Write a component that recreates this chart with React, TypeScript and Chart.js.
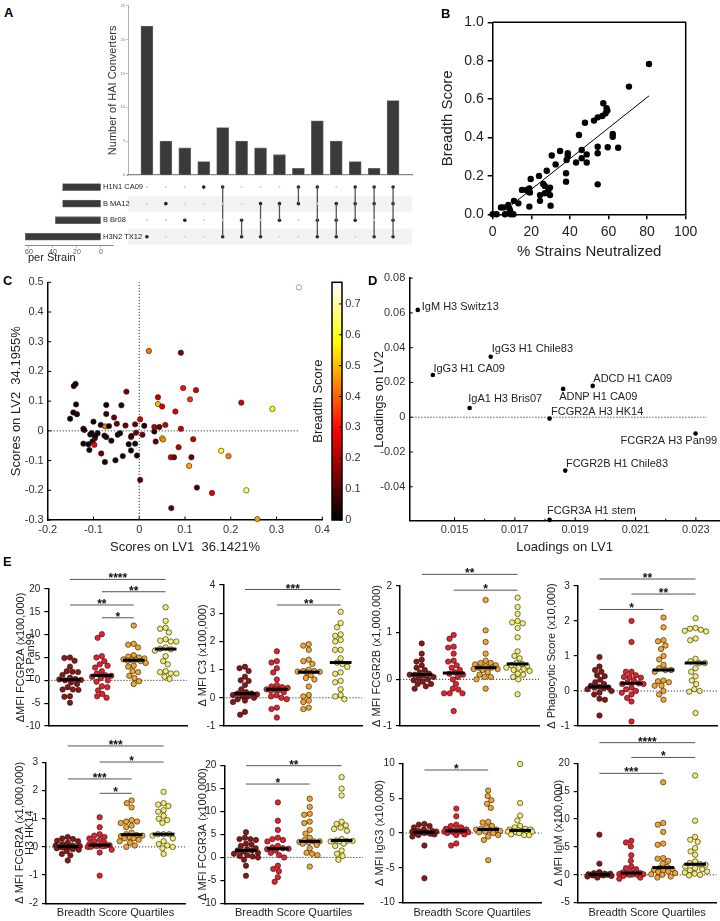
import React, { useEffect, useRef } from "react";
import { Chart, registerables } from "chart.js";

Chart.register(...registerables);
const FONT = "Arial, 'Liberation Sans', Helvetica, sans-serif";
Chart.defaults.font.family = FONT;
Chart.defaults.font.size = 11;
Chart.defaults.color = "#222";

// ---------------- Panel A (UpSet) ----------------
const upsetCounts = [22, 5, 4, 2, 7, 5, 4, 3, 1, 8, 5, 2, 1, 11];
const upsetMembers = [[4], [2], [3], [1], [1, 4], [3, 4], [2, 4], [2, 3], [1, 2], [1, 3, 4], [2, 3, 4], [1, 2, 3], [1, 2, 4], [1, 2, 3, 4]];
const strainNames = ["H1N1 CA09", "B MA12", "B Br08", "H3N2 TX12"];
const strainSizes = [32, 32, 38, 63];
const upsetCountTicks = [0, 5, 10, 15, 20, 25];
const strainSizeTicks = [0, 20, 40, 60];

// ---------------- Panel B ----------------
const neutPoints: [number, number][] = [
  [0, 0], [2, 0], [4.3, 0.036], [5.5, 0.036], [6.4, 0], [8.1, 0.049], [8.6, 0.031], [9, 0.019], [9.3, 0], [10.7, 0],
  [11, 0.07], [13.3, 0.057], [15.2, 0.127], [17.6, 0.127], [18.5, 0.118], [19, 0.135], [19.3, 0.113], [19.7, 0.184], [19, 0.04],
  [24, 0.2], [24.5, 0.07], [24.5, 0.1], [26.2, 0.158], [27, 0.148], [27, 0.11], [28, 0.227], [28.8, 0.123], [29.7, 0.139],
  [29.7, 0.1], [30, 0.045], [30.6, 0.306], [32.6, 0.26], [34.9, 0.33], [38, 0.214], [38, 0.17], [38.3, 0.283], [38.9, 0.318],
  [38.9, 0.304], [43.2, 0.27], [44.7, 0.413], [46.1, 0.335], [46.1, 0.292], [47.8, 0.477], [48.7, 0.312], [48.7, 0.27],
  [52.5, 0.488], [54.4, 0.505], [54.4, 0.352], [54.4, 0.318], [54.4, 0.156], [56.8, 0.512], [57.3, 0.578], [58.5, 0.526],
  [59, 0.552], [59.4, 0.54], [59.6, 0.349], [62.2, 0.418], [62.2, 0.404], [65, 0.347], [70.6, 0.665], [81, 0.783],
];
const regressionX = [10, 81];
const regressionY = [0.05, 0.617];

// ---------------- Panel C (scores: LV1, LV2, breadth) ----------------
const scorePoints: [number, number, number][] = [
  [-0.151, 0.041, 0.01], [-0.144, 0.062, 0.02], [-0.143, 0.151, 0.03], [-0.139, 0.158, 0.05], [-0.138, 0.089, 0.01],
  [-0.136, 0.056, 0.03], [-0.122, 0.007, 0.02], [-0.12, 0.003, 0.04], [-0.122, -0.043, 0.01], [-0.111, -0.045, 0.02],
  [-0.109, -0.064, 0.03], [-0.107, -0.012, 0.01], [-0.104, -0.008, 0.02], [-0.102, -0.036, 0.03], [-0.1, 0.031, 0.01],
  [-0.098, -0.047, 0.28], [-0.097, -0.025, 0.12], [-0.096, -0.017, 0.02], [-0.091, -0.008, 0.02], [-0.084, 0.02, 0.01],
  [-0.083, -0.076, 0.12], [-0.076, -0.016, 0.02], [-0.075, -0.105, 0.02], [-0.074, 0.015, 0.42], [-0.072, 0.087, 0.02],
  [-0.072, 0.057, 0.06], [-0.072, -0.021, 0.03], [-0.066, 0.016, 0.02], [-0.061, -0.033, 0.01], [-0.055, 0.045, 0.12],
  [-0.052, -0.099, 0.02], [-0.049, 0.024, 0.12], [-0.047, -0.013, 0.02], [-0.042, -0.008, 0.03], [-0.039, 0.086, 0.05],
  [-0.036, -0.085, 0.04], [-0.03, 0.018, 0.13], [-0.028, 0.132, 0.14], [-0.018, -0.021, 0.24], [-0.017, -0.017, 0.06],
  [-0.018, -0.066, 0.02], [-0.023, -0.045, 0.02], [-0.009, -0.043, 0.02], [-0.009, 0.022, 0.12], [-0.007, -0.006, 0.13],
  [-0.005, -0.083, 0.03], [0.002, 0.039, 0.25], [0.002, -0.165, 0.1], [0.007, -0.013, 0.13], [0.011, 0.017, 0.03],
  [0.021, 0.269, 0.42], [0.033, -0.002, 0.03], [0.033, 0.013, 0.2], [0.036, -0.036, 0.1], [0.041, 0.09, 0.5],
  [0.041, 0.113, 0.22], [0.044, 0.013, 0.12], [0.05, 0.082, 0.26], [0.05, -0.025, 0.58], [0.052, -0.029, 0.45],
  [0.057, 0.02, 0.22], [0.069, -0.089, 0.25], [0.07, -0.26, 0.1], [0.076, -0.089, 0.13], [0.079, 0.065, 0.25],
  [0.086, -0.055, 0.22], [0.091, 0.263, 0.15], [0.091, 0.007, 0.23], [0.096, 0.144, 0.3], [0.109, -0.118, 0.48],
  [0.111, 0.106, 0.34], [0.114, -0.089, 0.12], [0.118, -0.028, 0.22], [0.124, 0.137, 0.24], [0.126, -0.191, 0.07],
  [0.159, -0.209, 0.25], [0.179, -0.067, 0.6], [0.195, -0.085, 0.43], [0.223, 0.095, 0.24], [0.234, -0.2, 0.66],
  [0.258, -0.297, 0.47], [0.291, 0.074, 0.58], [0.349, 0.483, 0.77],
];
const breadthMax = 0.77;

// ---------------- Panel D (loadings) ----------------
const loadingNames = ["IgM H3 Switz13", "IgG3 H1 Chile83", "IgG3 H1 CA09", "IgA1 H3 Bris07", "ADNP H1 CA09", "ADCD H1 CA09", "FCGR2A H3 HK14", "FCGR2A H3 Pan99", "FCGR2B H1 Chile83", "FCGR3A H1 stem"];
const loadingLV1 = [0.01378, 0.0162, 0.01428, 0.0155, 0.0186, 0.01958, 0.01815, 0.02299, 0.01867, 0.01815];
const loadingLV2 = [0.0617, 0.0348, 0.0243, 0.0053, 0.0163, 0.018, -0.0008, -0.0094, -0.0307, -0.059];
const loadingTicksX = [0.015, 0.017, 0.019, 0.021, 0.023];
const loadingTicksY = [0.08, 0.06, 0.04, 0.02, 0, -0.02, -0.04];

// ---------------- Panel E (quartile groups Q1..Q4) ----------------
const fcgr2aPan99 = [
  [5, 4.9, 4.3, 3, 2, 1.9, 1.8, 1.2, 0.6, 0.3, 0.2, 0.1, 0, -0.5, -0.8, -1.5, -2, -2, -2.1, -3.5, -3.6, -4.9],
  [10.1, 9.3, 5.3, 5, 4.2, 3.5, 3.2, 2.8, 2, 1.5, 1.1, 1, 0.8, 0.5, 0, -0.3, -1.3, -1.5, -2.2, -3, -3.5, -3.8],
  [12, 8, 7.8, 7.2, 5.5, 5.2, 5, 4.8, 4.6, 4.5, 4.5, 4.3, 4.2, 3.8, 3.2, 3, 2, 1.8, 1, 0.5, -0.2, -0.8],
  [16, 13, 11.5, 11.3, 10.5, 9, 8.7, 8.5, 8.5, 7.2, 6.9, 6.8, 6.5, 5.3, 4.2, 3.5, 2, 1.8, 1.5, 1.5, 0.8, 0.3],
];
const c3 = [
  [1.1, 1.05, 0.95, 0.75, 0.62, 0.6, 0.45, 0.3, 0.2, 0.15, 0.15, 0.12, 0.1, 0.05, 0.05, 0, -0.05, -0.1, -0.15, -0.5, -0.6],
  [1.65, 1.3, 1.25, 1.05, 0.9, 0.65, 0.45, 0.4, 0.38, 0.35, 0.3, 0.3, 0.28, 0.25, 0.2, 0.1, 0.05, 0, -0.05, -0.35, -0.4, -0.7],
  [1.9, 1.85, 1.7, 1.35, 1.3, 1.2, 1.0, 0.95, 0.95, 0.93, 0.92, 0.9, 0.8, 0.7, 0.65, 0.4, 0.1, 0.05, -0.1, -0.15, -0.35, -0.4],
  [3.05, 2.65, 2.5, 2.25, 2.2, 2.05, 2.0, 1.7, 1.7, 1.4, 1.25, 1.2, 1.1, 0.9, 0.85, 0.6, 0.55, 0.3, 0.1, 0.05, -0.05],
];
const fcgr2b = [
  [0.77, 0.55, 0.42, 0.38, 0.3, 0.25, 0.2, 0.15, 0.12, 0.1, 0.1, 0.08, 0.05, 0.02, 0, -0.02, -0.05, -0.1, -0.1, -0.15, -0.2],
  [0.95, 0.87, 0.7, 0.68, 0.55, 0.4, 0.38, 0.3, 0.25, 0.2, 0.15, 0.12, 0.1, 0.05, 0, -0.1, -0.2, -0.22, -0.3, -0.3, -0.3, -0.68],
  [1.7, 1.05, 0.8, 0.55, 0.4, 0.35, 0.35, 0.32, 0.3, 0.28, 0.25, 0.25, 0.22, 0.2, 0.15, 0.1, 0.05, 0.05, 0, -0.2, 0.22],
  [1.75, 1.55, 1.4, 1.25, 1.22, 1.2, 1.1, 0.9, 0.6, 0.5, 0.45, 0.35, 0.33, 0.3, 0.28, 0.25, 0.25, 0.22, 0.2, 0.18, 0.12, 0.1, 0.05, 0, -0.32],
];
const phagocytic = [
  [0.97, 0.7, 0.6, 0.55, 0.45, 0.42, 0.32, 0.25, 0.2, 0.15, 0.12, 0.1, 0.1, 0.08, 0.05, 0, -0.05, -0.1, -0.22, -0.25, -0.7],
  [2.0, 1.4, 0.55, 0.55, 0.45, 0.4, 0.4, 0.38, 0.3, 0.25, 0.22, 0.2, 0.2, 0.1, 0.05, 0, -0.05, -0.1, -0.2, -0.3, -0.87],
  [2.1, 1.82, 1.45, 1.42, 1.3, 1.2, 1.0, 0.9, 0.75, 0.65, 0.6, 0.6, 0.55, 0.3, 0.28, 0.25, 0.15, 0.15, 0, -0.1, -0.25],
  [2.08, 1.8, 1.78, 1.75, 1.72, 1.7, 1.5, 1.45, 0.92, 0.85, 0.8, 0.8, 0.65, 0.55, 0.42, 0.3, 0.2, 0.05, 0, -0.02, -0.63],
];
const fcgr2aHK14 = [
  [0.35, 0.3, 0.28, 0.22, 0.2, 0.15, 0.1, 0.05, 0.05, 0.03, 0.02, 0, 0, 0, -0.02, -0.05, -0.08, -0.1, -0.15, -0.25, -0.3, -0.48],
  [1.05, 0.7, 0.45, 0.4, 0.35, 0.3, 0.25, 0.2, 0.15, 0.1, 0.06, 0.05, 0.05, 0.04, 0.03, 0.02, 0, 0, -0.1, -0.2, -1.02],
  [1.65, 1.55, 1.4, 0.95, 0.9, 0.9, 0.85, 0.75, 0.7, 0.5, 0.45, 0.42, 0.4, 0.38, 0.35, 0.3, 0.3, 0.25, 0.2, 0.15, 0.05, 0],
  [1.95, 1.55, 1.5, 1.45, 1.3, 1.25, 1.1, 1.0, 0.95, 0.85, 0.45, 0.45, 0.45, 0.4, 0.3, 0.2, 0.1, 0.05, 0, -0.05, -0.25],
];
const fcgr3a = [
  [5.5, 4.3, 4.0, 4.0, 3.8, 3.0, 2.8, 2.5, 2.0, 1.8, 1.5, 1.5, 1.3, 1.0, 0.8, 0.5, 0.3, 0.2, 0, -0.5, -1.8, -4.0],
  [12, 8, 6, 4.3, 4, 3.8, 3.5, 2.5, 2.2, 2, 1.9, 1.8, 1.5, 1.0, 0.5, 0, -1.8, -2.5, -3, -4.3, -5.3],
  [12.8, 11, 9.5, 9.3, 7.8, 7.5, 6, 5.2, 4.3, 3.8, 3.5, 3.5, 3.4, 3.3, 3.0, 2.7, 2.0, 1.0, 0.8, 0.5, -2.0],
  [17.5, 15, 13.5, 7.8, 7.3, 7.0, 6.5, 6.2, 5.8, 4.0, 3.7, 3.6, 3.6, 3.5, 3.5, 3.0, 2.5, 1.5, 0.8, 0.3, -0.5],
];
const igg3 = [
  [1.3, 1.2, 1.0, 0.8, 0.5, 0.3, 0.3, 0.2, 0.2, 0.1, 0.1, 0, 0, -0.1, -0.2, -0.3, -0.5, -1.8, -6.5],
  [3.5, 2.4, 1.2, 1.0, 0.8, 0.6, 0.5, 0.4, 0.3, 0.3, 0.2, 0.2, 0.1, 0.1, 0, -0.2, -0.3, -1.5, -1.8],
  [6.1, 5.3, 4.7, 4.2, 3.6, 1.6, 1.5, 1.0, 0.8, 0.6, 0.5, 0.5, 0.4, 0.3, 0.2, 0.1, 0, -0.3, -0.5, -1.0, -3.9],
  [9.9, 4.3, 2.5, 1.8, 1.0, 0.8, 0.6, 0.5, 0.5, 0.4, 0.3, 0.3, 0.2, 0.2, 0.2, 0.1, 0, -0.2, -0.3, -0.3],
];
const igm = [
  [7.2, 2.0, 0.5, 0.3, 0.2, 0.2, 0.1, 0.1, 0.05, 0, 0, 0, 0, -0.1, -0.1, -0.2, -0.3, -0.5],
  [6.1, 5.8, 5.1, 3.5, 2.5, 1.5, 1.2, 1.0, 0.5, 0.4, 0.3, 0.3, 0.2, 0.15, 0.1, 0.05, 0, 0, -0.2, -0.5, -0.7],
  [16.6, 9.3, 9.0, 7.7, 5.6, 5.4, 3.0, 2.9, 2.5, 2.0, 1.4, 1.2, 1.0, 0.9, 0.8, 0.6, 0.5, 0.3, 0.1, 0, -0.3, -0.5],
  [17.8, 9.7, 6.8, 6.3, 5.9, 4.8, 4.2, 3.6, 2.4, 2.1, 1.9, 1.8, 1.5, 1.2, 1.0, 0.8, 0.6, 0.4, 0.2, 0, -0.1],
];
type Sig = [number, number, number, string];
const fcgr2aPan99Sig: Sig[] = [[1, 4, 22.1, "****"], [2, 4, 19.4, "**"], [1, 3, 16.5, "**"], [2, 3, 13.7, "*"]];
const c3Sig: Sig[] = [[1, 4, 3.84, "***"], [2, 4, 3.29, "**"]];
const fcgr2bSig: Sig[] = [[1, 4, 2.25, "**"], [2, 4, 1.91, "*"]];
const phagocyticSig: Sig[] = [[1, 4, 3.2, "**"], [2, 4, 2.77, "**"], [1, 3, 2.33, "*"]];
const fcgr2aHK14Sig: Sig[] = [[1, 4, 3.58, "***"], [2, 4, 3.01, "*"], [1, 3, 2.41, "***"], [2, 3, 1.9, "*"]];
const fcgr3aSig: Sig[] = [[1, 4, 20, "**"], [1, 3, 16, "*"]];
const igg3Sig: Sig[] = [[1, 3, 9.04, "*"]];
const igmSig: Sig[] = [[1, 4, 23.7, "****"], [2, 4, 21.05, "*"], [1, 3, 18.2, "***"]];

// ---------------- styles / helpers ----------------
const groupColors = ["#8c1515", "#e8202a", "#f2a52a", "#f4ec6c"];

function hot(v: number) {
  const t = Math.max(0, Math.min(1, v / breadthMax));
  const r = Math.min(1, t / 0.375);
  const g = Math.min(1, Math.max(0, (t - 0.375) / 0.375));
  const b = Math.max(0, (t - 0.75) / 0.25);
  return `rgb(${Math.round(r * 255)},${Math.round(g * 255)},${Math.round(b * 255)})`;
}

function median(a: number[]) {
  const s = [...a].sort((x, y) => x - y);
  const n = s.length;
  return n % 2 ? s[(n - 1) / 2] : (s[n / 2 - 1] + s[n / 2]) / 2;
}

// deterministic beeswarm layout (pixel offsets) computed from the values
function swarm(vals: number[], pxY: number, d: number, cap: number): number[] {
  const order = vals.map((_, i) => i).sort((a, b) => vals[b] - vals[a]);
  const placed: { x: number; y: number }[] = [];
  const out: number[] = new Array(vals.length).fill(0);
  for (const i of order) {
    const y = vals[i] * pxY;
    const near = placed.filter((p) => Math.abs(p.y - y) < d);
    const cands = [0];
    for (const p of near) {
      const dx = Math.sqrt(d * d - (p.y - y) ** 2);
      cands.push(p.x + dx, p.x - dx);
    }
    cands.sort((a, b) => Math.abs(a) - Math.abs(b) || a - b);
    let best: number | null = null;
    for (const c of cands) {
      if (Math.abs(c) > cap) continue;
      if (near.every((p) => (p.x - c) ** 2 + (p.y - y) ** 2 >= d * d - 0.01)) { best = c; break; }
    }
    if (best === null) {
      let bestScore = -1;
      for (let c = -cap; c <= cap + 1e-9; c += 1) {
        const m = Math.min(...near.map((p) => Math.hypot(p.x - c, p.y - y)));
        if (m > bestScore) { bestScore = m; best = c; }
      }
    }
    placed.push({ x: best as number, y });
    out[i] = best as number;
  }
  return out;
}

const fix = (size: number, horizontal: boolean) => (s: any) => {
  if (horizontal) s.height = size; else s.width = size;
  s.paddingLeft = 0; s.paddingRight = 0; s.paddingTop = 0; s.paddingBottom = 0;
};

const base = (padding: any) => ({
  responsive: false,
  animation: false as const,
  events: [] as any[],
  layout: { padding, autoPadding: false },
  plugins: { legend: { display: false }, tooltip: { enabled: false } },
});

const fmt1 = (v: any) => { const r = Math.round(Number(v) * 10) / 10; return r === 0 ? "0" : String(r); };

const innerTicks = (minorX: number[] = []) => ({
  id: "innerTicks",
  afterDraw(chart: any) {
    const { ctx, chartArea: ca, scales } = chart;
    const xs = scales.x, ys = scales.y;
    ctx.save();
    ctx.strokeStyle = "#000";
    ctx.lineWidth = 1;
    ctx.beginPath();
    xs.ticks.forEach((t: any) => { const px = xs.getPixelForValue(t.value); ctx.moveTo(px, ca.bottom); ctx.lineTo(px, ca.bottom - 3.5); });
    minorX.forEach((v) => { const px = xs.getPixelForValue(v); ctx.moveTo(px, ca.bottom); ctx.lineTo(px, ca.bottom - 2); });
    ys.ticks.forEach((t: any) => { const py = ys.getPixelForValue(t.value); ctx.moveTo(ca.left, py); ctx.lineTo(ca.left + 3.5, py); });
    ctx.stroke();
    ctx.restore();
  },
});

function dotted(ctx: CanvasRenderingContext2D, x1: number, y1: number, x2: number, y2: number) {
  ctx.save();
  ctx.strokeStyle = "#333";
  ctx.lineWidth = 1;
  ctx.setLineDash([1.2, 1.8]);
  ctx.beginPath();
  ctx.moveTo(x1, y1);
  ctx.lineTo(x2, y2);
  ctx.stroke();
  ctx.restore();
}

// ---------------- chart makers ----------------
function makeUpsetBars() {
  return {
    type: "bar",
    data: {
      datasets: [{
        data: upsetCounts.map((v, i) => ({ x: i + 1, y: v })),
        backgroundColor: "#3a3a3a", borderColor: "#707070", borderWidth: 0.8, barThickness: 12,
      }],
    },
    options: {
      ...base({ left: 0, top: 5.7, right: 18, bottom: 0 }),
      scales: {
        x: { type: "linear", offset: false, min: 0, max: 15, ticks: { display: false }, grid: { display: false, drawTicks: false, offset: false }, border: { color: "#888", width: 1.2 }, afterFit: fix(3, true) },
        y: {
          type: "linear", min: 0, max: 25,
          afterBuildTicks: (s: any) => { s.ticks = upsetCountTicks.map((v) => ({ value: v })); },
          ticks: { font: { size: 4 }, color: "#777", padding: 1 },
          grid: { drawOnChartArea: false, tickLength: 2, color: "#999", lineWidth: 0.6 },
          border: { color: "#999", width: 0.8 },
          title: { display: true, text: "Number of HAI Converters", font: { size: 11 }, color: "#333", padding: { top: 16.7, bottom: 0 } },
          afterFit: fix(38, false),
        },
      },
    },
  };
}

function makeUpsetMatrix() {
  const active: any[] = [], inactive: any[] = [], lines: any[] = [];
  upsetMembers.forEach((m, ci) => {
    for (let r = 1; r <= 4; r++) (m.includes(r) ? active : inactive).push({ x: ci + 1, y: r });
    if (m.length > 1) lines.push([{ x: ci + 1, y: Math.min(...m) }, { x: ci + 1, y: Math.max(...m) }]);
  });
  return {
    type: "scatter",
    data: {
      datasets: [
        { data: inactive, backgroundColor: "#d2d2d2", borderWidth: 0, pointRadius: 1.1, clip: false },
        ...lines.map((l) => ({ type: "line", data: l, borderColor: "#555", borderWidth: 1.3, pointRadius: 0, clip: false })),
        { data: active, backgroundColor: "#222", borderWidth: 0, pointRadius: 1.8, clip: false },
      ],
    },
    options: {
      ...base({ left: 25, top: 0.8, right: 8, bottom: 5 }),
      scales: {
        x: { type: "linear", min: 0, max: 15, display: false },
        y: { type: "linear", min: 0.5, max: 4.5, reverse: true, display: false },
      },
    },
    plugins: [{
      id: "bands",
      beforeDraw(chart: any) {
        const { ctx, chartArea: ca, scales } = chart;
        ctx.save();
        ctx.fillStyle = "#f3f3f3";
        [2, 4].forEach((r) => {
          const y1 = scales.y.getPixelForValue(r - 0.485), y2 = scales.y.getPixelForValue(r + 0.485);
          ctx.fillRect(ca.left, Math.min(y1, y2), ca.right - ca.left, Math.abs(y2 - y1));
        });
        ctx.restore();
      },
      afterDraw(chart: any) {
        const { ctx, scales } = chart;
        ctx.save();
        ctx.font = `7.5px ${FONT}`;
        ctx.fillStyle = "#222";
        ctx.textAlign = "left";
        ctx.textBaseline = "middle";
        strainNames.forEach((n, i) => ctx.fillText(n, 0, scales.y.getPixelForValue(i + 1)));
        ctx.restore();
      },
    }],
  };
}

function makeStrainBars() {
  return {
    type: "bar",
    data: {
      datasets: [{
        data: strainSizes.map((v, i) => ({ x: v, y: i + 1 })),
        backgroundColor: "#3a3a3a", borderColor: "#707070", borderWidth: 0.8, barThickness: 7,
      }],
    },
    options: {
      ...base({ left: 25, top: 0.8, right: 15, bottom: 0 }),
      indexAxis: "y",
      scales: {
        x: {
          type: "linear", min: -10, max: 63.3, reverse: true,
          afterBuildTicks: (s: any) => { s.ticks = strainSizeTicks.map((v) => ({ value: v })); },
          ticks: { font: { size: 7 }, color: "#555", padding: 0 },
          grid: { drawOnChartArea: false, tickLength: 3, color: "#999", lineWidth: 0.6 },
          border: { color: "#888", width: 1 },
          afterFit: fix(25, true),
        },
        y: { type: "linear", offset: false, min: 0.5, max: 4.5, reverse: true, display: false, grid: { offset: false } },
      },
    },
    plugins: [{
      id: "perStrain",
      afterDraw(chart: any) {
        const ctx = chart.ctx;
        ctx.save();
        ctx.font = `11px ${FONT}`;
        ctx.fillStyle = "#222";
        ctx.textAlign = "left";
        ctx.textBaseline = "middle";
        ctx.fillText("per Strain", 28, 80);
        ctx.restore();
      },
    }],
  };
}

function makeB() {
  return {
    type: "scatter",
    data: {
      datasets: [
        { data: neutPoints.map(([x, y]) => ({ x, y })), backgroundColor: "#000", borderWidth: 0, pointRadius: 3.2, clip: false },
        { type: "line", data: regressionX.map((x, i) => ({ x, y: regressionY[i] })), borderColor: "#000", borderWidth: 1, pointRadius: 0 },
      ],
    },
    options: {
      ...base({ left: 0, top: 22.3, right: 34.3, bottom: 0 }),
      scales: {
        x: {
          type: "linear", min: 0, max: 100,
          ticks: { stepSize: 20, font: { size: 14 }, color: "#222", padding: 4 },
          grid: { drawOnChartArea: false, tickLength: 5, color: "#000", lineWidth: 1.5 },
          border: { color: "#000", width: 1.5 },
          title: { display: true, text: "% Strains Neutralized", font: { size: 15 }, color: "#222", padding: { top: 0, bottom: 8.7 } },
          afterFit: fix(55.7, true),
        },
        y: {
          type: "linear", min: 0, max: 1,
          ticks: { stepSize: 0.2, callback: (v: any) => Number(v).toFixed(1), font: { size: 14 }, color: "#222", padding: 4 },
          grid: { drawOnChartArea: false, tickLength: 5, color: "#000", lineWidth: 1.5 },
          border: { color: "#000", width: 1.5 },
          title: { display: true, text: "Breadth Score", font: { size: 15 }, color: "#222", padding: { top: 9, bottom: 0 } },
          afterFit: fix(62.7, false),
        },
      },
    },
    plugins: [{
      id: "frame",
      afterDraw(chart: any) {
        const { ctx, chartArea: ca } = chart;
        ctx.save();
        ctx.strokeStyle = "#000";
        ctx.lineWidth = 1.5;
        ctx.beginPath();
        ctx.moveTo(ca.left, ca.top);
        ctx.lineTo(ca.right, ca.top);
        ctx.lineTo(ca.right, ca.bottom);
        ctx.stroke();
        ctx.restore();
      },
    }],
  };
}

function makeC() {
  return {
    type: "scatter",
    data: {
      datasets: [{
        data: scorePoints.map(([x, y]) => ({ x, y })),
        backgroundColor: scorePoints.map((p) => hot(p[2])),
        borderColor: scorePoints.map((p) => (p[2] > 0.72 ? "#666" : "#222")),
        borderWidth: 0.6, pointRadius: 2.7, clip: false,
      }],
    },
    options: {
      ...base({ left: 0, top: 12.3, right: 0, bottom: 0 }),
      scales: {
        x: {
          type: "linear", min: -0.2, max: 0.4,
          ticks: { stepSize: 0.1, callback: fmt1, font: { size: 11 }, color: "#333", padding: 3 },
          grid: { display: false, drawTicks: false },
          border: { color: "#000", width: 1.5 },
          title: { display: true, text: "Scores on LV1  36.1421%", font: { size: 13 }, color: "#222", padding: { top: 0, bottom: 5.2 } },
          afterFit: fix(40, true),
        },
        y: {
          type: "linear", min: -0.3, max: 0.5,
          ticks: { stepSize: 0.1, callback: fmt1, font: { size: 11 }, color: "#333", padding: 4 },
          grid: { display: false, drawTicks: false },
          border: { color: "#000", width: 1.5 },
          title: { display: true, text: "Scores on LV2  34.1955%", font: { size: 13 }, color: "#222", padding: { top: 8.2, bottom: 0 } },
          afterFit: fix(47.7, false),
        },
        cb: {
          type: "linear", position: "right", min: 0, max: breadthMax,
          ticks: { stepSize: 0.1, includeBounds: false, callback: fmt1, font: { size: 11 }, color: "#333", padding: 23 },
          grid: { display: false, drawTicks: false },
          border: { display: false },
          afterFit: fix(49.7, false),
        },
      },
    },
    plugins: [
      {
        id: "zeroLinesC",
        beforeDatasetsDraw(chart: any) {
          const { ctx, scales: { x, y } } = chart;
          dotted(ctx, x.getPixelForValue(-0.2), y.getPixelForValue(0), x.getPixelForValue(0.35), y.getPixelForValue(0));
          dotted(ctx, x.getPixelForValue(0), y.getPixelForValue(-0.3), x.getPixelForValue(0), y.getPixelForValue(0.5));
        },
      },
      innerTicks(),
      {
        id: "colorbar",
        afterDraw(chart: any) {
          const { ctx, scales } = chart;
          const cb = scales.cb;
          const top = cb.getPixelForValue(breadthMax), bot = cb.getPixelForValue(0);
          const x0 = 332, w = 10;
          const grad = ctx.createLinearGradient(0, bot, 0, top);
          for (let i = 0; i <= 40; i++) grad.addColorStop(i / 40, hot((breadthMax * i) / 40));
          ctx.save();
          ctx.fillStyle = grad;
          ctx.fillRect(x0, top, w, bot - top);
          ctx.strokeStyle = "#000";
          ctx.lineWidth = 1.5;
          ctx.strokeRect(x0, top, w, bot - top);
          ctx.lineWidth = 1;
          ctx.beginPath();
          cb.ticks.forEach((t: any) => { const py = cb.getPixelForValue(t.value); ctx.moveTo(x0 + w, py); ctx.lineTo(x0 + w - 3, py); });
          ctx.stroke();
          ctx.translate(318, (top + bot) / 2);
          ctx.rotate(-Math.PI / 2);
          ctx.font = `13px ${FONT}`;
          ctx.fillStyle = "#222";
          ctx.textAlign = "center";
          ctx.textBaseline = "middle";
          ctx.fillText("Breadth Score", 0, 0);
          ctx.restore();
        },
      },
    ],
  };
}

const loadingLabelPlacement: [number, number, CanvasTextAlign][] = [
  [4, -3, "left"], [1, -7.7, "left"], [0.6, -6, "left"], [-1.4, -8.7, "left"], [-4, 8.3, "left"],
  [0.6, -6.7, "left"], [1.4, -7, "left"], [21.6, 7, "right"], [0.7, -6.7, "left"], [-2.6, -8.7, "left"],
];

function makeD() {
  return {
    type: "scatter",
    data: {
      datasets: [{
        data: loadingLV1.map((x, i) => ({ x, y: loadingLV2[i] })),
        backgroundColor: "#000", borderWidth: 0, pointRadius: 2.3, clip: false,
      }],
    },
    options: {
      ...base({ left: 0, top: 8.1, right: 0, bottom: 0 }),
      scales: {
        x: {
          type: "linear", min: 0.0135, max: 0.0238,
          afterBuildTicks: (s: any) => { s.ticks = loadingTicksX.map((v) => ({ value: v })); },
          ticks: { callback: (v: any) => Number(v).toFixed(3), font: { size: 11 }, color: "#333", padding: 3 },
          grid: { display: false, drawTicks: false },
          border: { color: "#000", width: 1.5 },
          title: { display: true, text: "Loadings on LV1", font: { size: 13 }, color: "#222", padding: { top: 0, bottom: 5.2 } },
          afterFit: fix(39.3, true),
        },
        y: {
          type: "linear", min: -0.0595, max: 0.08,
          afterBuildTicks: (s: any) => { s.ticks = loadingTicksY.map((v) => ({ value: v })); },
          ticks: { callback: (v: any) => (Number(v) === 0 ? "0" : Number(v).toFixed(2)), font: { size: 11 }, color: "#333", padding: 4 },
          grid: { display: false, drawTicks: false },
          border: { color: "#000", width: 1.5 },
          title: { display: true, text: "Loadings on LV2", font: { size: 13 }, color: "#222", padding: { top: 0, bottom: 0 } },
          afterFit: fix(37.3, false),
        },
      },
    },
    plugins: [
      {
        id: "zeroLineD",
        beforeDatasetsDraw(chart: any) {
          const { ctx, scales: { x, y } } = chart;
          dotted(ctx, x.getPixelForValue(0.0135), y.getPixelForValue(0), x.getPixelForValue(0.02336), y.getPixelForValue(0));
        },
      },
      innerTicks([0.016, 0.018, 0.02, 0.022]),
      {
        id: "pointLabels",
        afterDatasetsDraw(chart: any) {
          const ctx = chart.ctx;
          const pts = chart.getDatasetMeta(0).data;
          ctx.save();
          ctx.font = `11px ${FONT}`;
          ctx.fillStyle = "#222";
          ctx.textBaseline = "middle";
          loadingNames.forEach((name, i) => {
            const [dx, dy, al] = loadingLabelPlacement[i];
            ctx.textAlign = al;
            ctx.fillText(name, pts[i].x + dx, pts[i].y + dy);
          });
          ctx.restore();
        },
      },
    ],
  };
}

type EPanel = {
  title: string | string[];
  groups: number[][];
  min: number; max: number; step: number;
  sig: Sig[];
  canvas: [number, number, number, number];
  plot: [number, number, number, number];
  tx: number;
  xTitle: boolean;
};

const ePanels: EPanel[] = [
  { title: ["ΔMFI FCGR2A (x100,000)", "H3 Pan99"], groups: fcgr2aPan99, min: -10, max: 20, step: 5, sig: fcgr2aPan99Sig, canvas: [0, 560, 190, 180], plot: [48.3, 589, 187, 726], tx: 20.7, xTitle: false },
  { title: "Δ MFI C3 (x100,000)", groups: c3, min: -1, max: 4, step: 1, sig: c3Sig, canvas: [185, 560, 180, 180], plot: [223.3, 585, 362, 726], tx: 202.7, xTitle: false },
  { title: "Δ MFI FCGR2B (x1,000,000)", groups: fcgr2b, min: -1, max: 2, step: 1, sig: fcgr2bSig, canvas: [362, 560, 180, 180], plot: [400, 586, 539, 726], tx: 376.7, xTitle: false },
  { title: "Δ Phagocytic Score (x10,000)", groups: phagocytic, min: -1, max: 3, step: 1, sig: phagocyticSig, canvas: [540, 560, 180, 180], plot: [577.7, 586, 717, 726], tx: 551.7, xTitle: false },
  { title: ["Δ MFI FCGR2A (x1,000,000)", "H3 HK14"], groups: fcgr2aHK14, min: -2, max: 3, step: 1, sig: fcgr2aHK14Sig, canvas: [0, 728, 190, 193], plot: [46, 762.3, 185, 903.3], tx: 20, xTitle: true },
  { title: "Δ MFI FCGR3A (x100,000)", groups: fcgr3a, min: -10, max: 20, step: 5, sig: fcgr3aSig, canvas: [185, 728, 180, 193], plot: [224.3, 765.7, 363, 903.3], tx: 202.7, xTitle: true },
  { title: "Δ MFI IgG3 (x10,000)", groups: igg3, min: -10, max: 10, step: 5, sig: igg3Sig, canvas: [362, 728, 180, 193], plot: [402.7, 763.3, 541.5, 902.7], tx: 380, xTitle: true },
  { title: "Δ MFI IgM (x100,000)", groups: igm, min: -5, max: 20, step: 5, sig: igmSig, canvas: [540, 728, 180, 193], plot: [577.7, 763.3, 716.5, 902.7], tx: 559, xTitle: true },
];

function makeE(p: EPanel) {
  return () => {
    const [cx, cy, cw, ch] = p.canvas;
    const [pl, pt, pr, pb] = p.plot;
    const xMin = 0.32, xMax = 4.67;
    const pxX = (pr - pl) / (xMax - xMin);
    const pxY = (pb - pt) / (p.max - p.min);
    const datasets: any[] = [];
    p.groups.forEach((g, gi) => {
      const off = swarm(g, pxY, 5.6, 12);
      datasets.push({
        type: "scatter",
        data: g.map((v, i) => ({ x: gi + 1 + off[i] / pxX, y: v })),
        backgroundColor: groupColors[gi], borderColor: "#1a1a1a", borderWidth: 0.6, pointRadius: 2.7, order: 2, clip: false,
      });
    });
    p.groups.forEach((g, gi) => {
      const m = median(g);
      datasets.push({
        type: "line",
        data: [{ x: gi + 1 - 0.34, y: m }, { x: gi + 1 + 0.34, y: m }],
        borderColor: "#000", borderWidth: 3, pointRadius: 0, order: 1, clip: false,
      });
    });
    const lh = 9.9;
    return {
      type: "scatter",
      data: { datasets },
      options: {
        ...base({ left: 0, top: pt - cy, right: cx + cw - pr, bottom: 0 }),
        scales: {
          x: {
            type: "linear", min: xMin, max: xMax,
            ticks: { display: false },
            grid: { display: false, drawTicks: false },
            border: { color: "#000", width: 1.5 },
            title: { display: p.xTitle, text: "Breadth Score Quartiles", font: { size: 11 }, color: "#222", padding: { top: 0, bottom: 1.7 } },
            afterFit: fix(cy + ch - pb, true),
          },
          y: {
            type: "linear", min: p.min, max: p.max,
            ticks: { stepSize: p.step, font: { size: 10 }, color: "#222", padding: 4, autoSkip: false },
            grid: { drawOnChartArea: false, tickLength: 4, color: "#000", lineWidth: 1.2 },
            border: { color: "#000", width: 1.5 },
            title: { display: true, text: p.title, font: { size: 11, lineHeight: 0.9 }, color: "#222", padding: { top: p.tx - cx - lh / 2, bottom: 0 } },
            afterFit: fix(pl - cx, false),
          },
        },
      },
      plugins: [
        {
          id: "zeroLineE",
          beforeDatasetsDraw(chart: any) {
            const { ctx, chartArea: ca, scales: { y } } = chart;
            dotted(ctx, ca.left, y.getPixelForValue(0), ca.right, y.getPixelForValue(0));
          },
        },
        {
          id: "brackets",
          afterDraw(chart: any) {
            const { ctx, scales: { x, y } } = chart;
            ctx.save();
            p.sig.forEach(([a, b, v, s]) => {
              const x1 = x.getPixelForValue(a), x2 = x.getPixelForValue(b), py = y.getPixelForValue(v);
              ctx.strokeStyle = "#555";
              ctx.lineWidth = 1;
              ctx.beginPath();
              ctx.moveTo(x1, py);
              ctx.lineTo(x2, py);
              ctx.stroke();
              ctx.font = `bold 12px ${FONT}`;
              ctx.fillStyle = "#111";
              ctx.textAlign = "center";
              ctx.textBaseline = "alphabetic";
              ctx.fillText(s, (x1 + x2) / 2, py + 3);
            });
            ctx.restore();
          },
        },
      ],
    };
  };
}

// ---------------- components ----------------
function ChartBox({ box, make }: { box: [number, number, number, number]; make: () => any }) {
  const ref = useRef<HTMLCanvasElement | null>(null);
  useEffect(() => {
    if (!ref.current) return;
    const chart = new Chart(ref.current, make());
    return () => chart.destroy();
  }, []);
  const [x, y, w, h] = box;
  return <canvas ref={ref} width={w} height={h} style={{ position: "absolute", left: x, top: y, width: w, height: h }} />;
}

const letterStyle = (left: number, top: number): React.CSSProperties => ({
  position: "absolute", left, top, fontSize: 13, lineHeight: "13px", fontWeight: "bold", fontFamily: FONT, color: "#000",
});

export default function App() {
  return (
    <div style={{ position: "absolute", left: 0, top: 0, width: 720, height: 921, background: "#fff", overflow: "hidden", fontFamily: FONT }}>
      <ChartBox box={[90, 0, 340, 178]} make={makeUpsetBars} />
      <ChartBox box={[0, 178, 128, 92]} make={makeStrainBars} />
      <ChartBox box={[103, 178, 317, 72]} make={makeUpsetMatrix} />
      <ChartBox box={[430, 0, 290, 270]} make={makeB} />
      <ChartBox box={[0, 270, 372, 290]} make={makeC} />
      <ChartBox box={[372, 270, 348, 290]} make={makeD} />
      {ePanels.map((p, i) => (
        <ChartBox key={i} box={p.canvas} make={makeE(p)} />
      ))}
      <div style={letterStyle(4, 6)}>A</div>
      <div style={letterStyle(441, 7)}>B</div>
      <div style={letterStyle(3, 274)}>C</div>
      <div style={letterStyle(368, 274)}>D</div>
      <div style={letterStyle(3, 555)}>E</div>
    </div>
  );
}
